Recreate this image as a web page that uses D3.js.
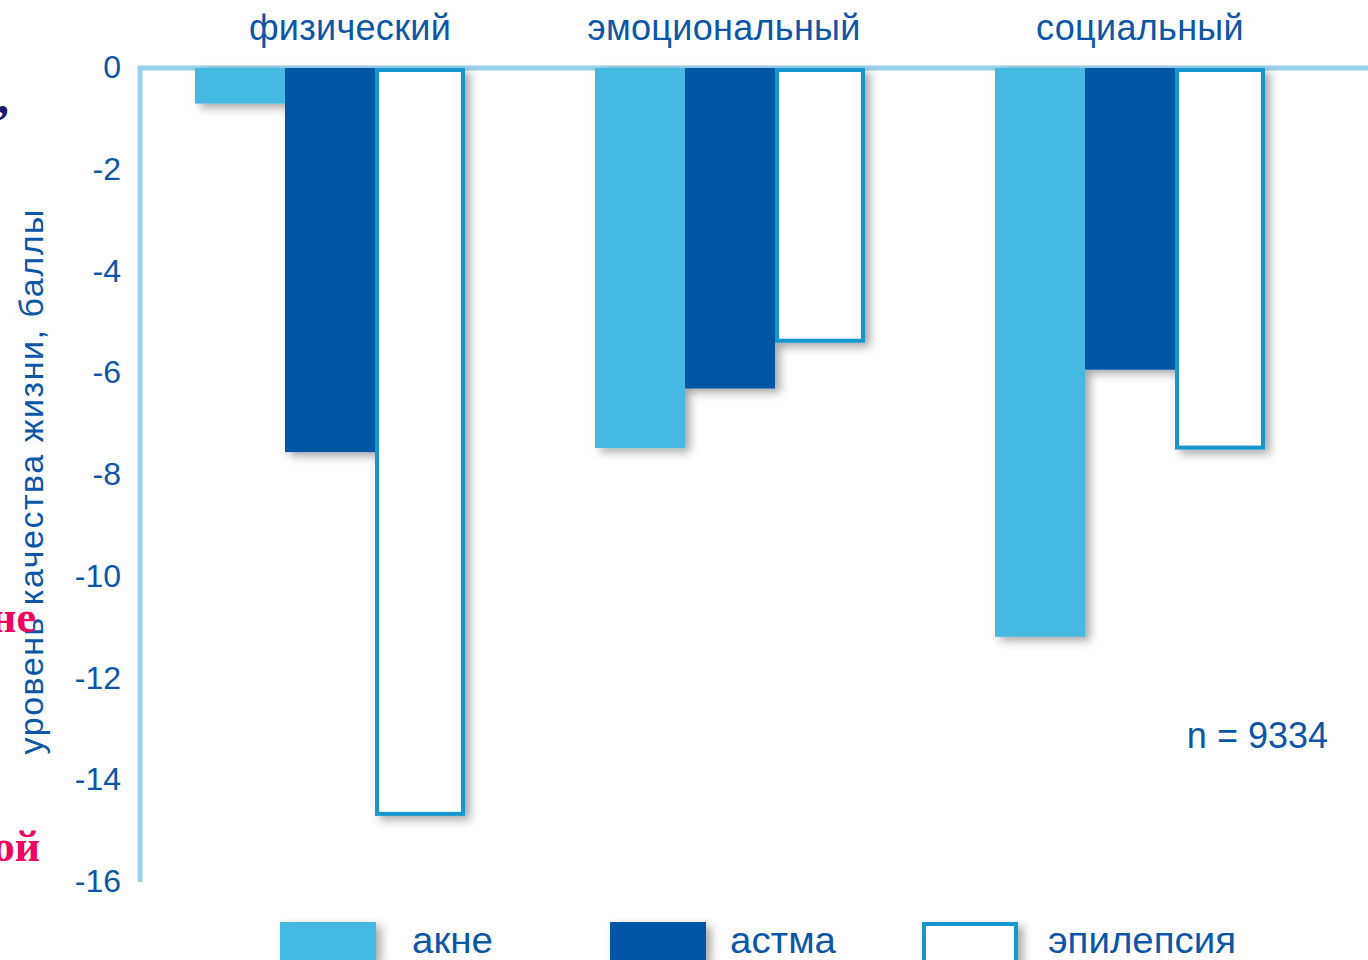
<!DOCTYPE html>
<html><head><meta charset="utf-8">
<script src="https://cdn.jsdelivr.net/npm/d3@7"></script>
<style>
html,body{margin:0;padding:0;background:#fff;overflow:hidden}
svg{display:block}
</style></head>
<body>
<svg id="chart" width="1368" height="960" font-family="Liberation Sans, Arial, sans-serif"></svg>
<script>
const categories = ["физический", "эмоциональный", "социальный"];
const seriesNames = ["акне", "астма", "эпилепсия"];
const acne = [-0.7, -7.47, -11.18];
const asthma = [-7.55, -6.3, -5.93];
const epilepsy = [-14.7, -5.4, -7.5];
const yTicks = [0, -2, -4, -6, -8, -10, -12, -14, -16];
const yTitle = "уровень качества жизни, баллы";
const note = "n = 9334";

const series = [acne, asthma, epilepsy];
const fills = ["#44b9e1", "#0455a4", "#ffffff"];
const strokes = [null, null, "#1596cf"];
const blue = "#0b56a6";

const svg = d3.select("#chart");
const defs = svg.append("defs");
const f = defs.append("filter").attr("id","sh").attr("x","-20%").attr("y","-10%").attr("width","150%").attr("height","130%");
f.append("feDropShadow").attr("dx",5).attr("dy",4).attr("stdDeviation",5).attr("flood-color","#000").attr("flood-opacity",0.35);

const y = d3.scaleLinear().domain([0, -16]).range([68, 882]);
const x = d3.scaleBand().domain(categories).range([140, 1320]).paddingInner(0.325).paddingOuter(0.1375);
const xs = d3.scaleBand().domain(seriesNames).range([0, x.bandwidth()]);

// axis lines
svg.append("line").attr("x1",140).attr("x2",1368).attr("y1",y(0)).attr("y2",y(0))
  .attr("stroke","#9ad2ea").attr("stroke-width",5);
svg.append("line").attr("x1",140).attr("x2",140).attr("y1",y(0)-2.5).attr("y2",y(-16))
  .attr("stroke","#9ad2ea").attr("stroke-width",5);

// y ticks
const yAxis = d3.axisLeft(y).tickValues(yTicks).tickSize(0).tickPadding(0).tickFormat(d => d3.format("d")(d).replace("−","-"));
const ga = svg.append("g").attr("transform","translate(121,0)").call(yAxis);
ga.select(".domain").remove();
ga.selectAll("text").attr("fill",blue).attr("font-size",32).attr("font-family",null).attr("dy","0.3em");

// bars
const gs = svg.append("g");
categories.forEach((c, ci) => {
  const g = gs.append("g").attr("transform",`translate(${x(c)},0)`).attr("filter","url(#sh)");
  seriesNames.forEach((s, si) => {
    const v = series[si][ci];
    const r = g.append("rect")
      .attr("x", xs(s)).attr("width", xs.bandwidth())
      .attr("y", y(0)).attr("height", y(v) - y(0))
      .attr("fill", fills[si]);
    if (strokes[si]) {
      r.attr("x", xs(s)+2).attr("width", xs.bandwidth()-4)
       .attr("y", y(0)+2).attr("height", y(v)-y(0)-4)
       .attr("stroke", strokes[si]).attr("stroke-width",4);
    }
  });
});

// category labels
const labelShift = [20, -6, 10];
svg.append("g").selectAll("text").data(categories).join("text")
  .attr("x", (d,i) => x(d) + x.bandwidth()/2 + labelShift[i]).attr("y", 40)
  .attr("text-anchor","middle").attr("fill",blue).attr("font-size",36).attr("letter-spacing",0.3)
  .text(d => d);

// y title
svg.append("text").attr("transform","translate(43,482) rotate(-90)")
  .attr("text-anchor","middle").attr("fill",blue).attr("font-size",34)
  .attr("textLength",545).attr("lengthAdjust","spacing").text(yTitle);

// note
svg.append("text").attr("x",1328).attr("y",748).attr("text-anchor","end")
  .attr("fill",blue).attr("font-size",36).text(note);

// legend
const lx = [280, 610, 922];
const ltx = [132, 120, 126];
const lw = [81, 106, 188];
const lg = svg.append("g");
seriesNames.forEach((s, i) => {
  const r = lg.append("rect").attr("x", lx[i]).attr("y", 922).attr("width",96).attr("height",40)
    .attr("fill", fills[i]).attr("filter","url(#sh)");
  if (strokes[i]) r.attr("x",lx[i]+2).attr("y",924).attr("width",92).attr("stroke",strokes[i]).attr("stroke-width",4);
  lg.append("text").attr("x", lx[i]+ltx[i]).attr("y", 953).attr("fill",blue).attr("font-size",36)
    .attr("textLength", lw[i]).attr("lengthAdjust","spacingAndGlyphs").text(s);
});

// slide fragments at the left edge
const serif = "Liberation Serif, Times New Roman, serif";
svg.append("text").attr("x",-3).attr("y",113).attr("fill","#1a1a6e").attr("font-size",48)
  .attr("font-weight","bold").attr("font-family",serif).text(",");
svg.append("text").attr("x",36).attr("y",632).attr("text-anchor","end").attr("fill","#f0005f").attr("font-size",44)
  .attr("font-weight","bold").attr("font-family",serif).text("не");
svg.append("text").attr("x",40).attr("y",861).attr("text-anchor","end").attr("fill","#f0005f").attr("font-size",44)
  .attr("font-weight","bold").attr("font-family",serif).text("ой");
</script>
</body></html>
